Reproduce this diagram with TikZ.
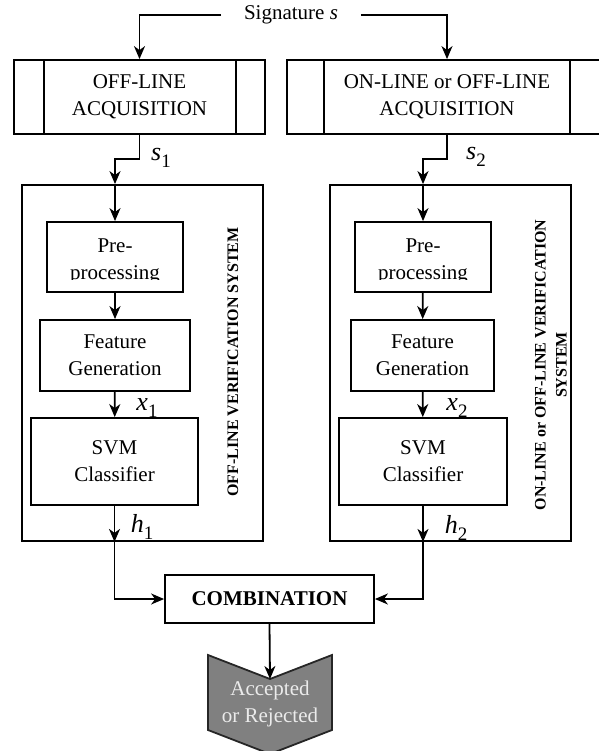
\documentclass[tikz,border=0pt]{standalone}
\usepackage{fontspec}
\setmainfont{Liberation Serif}
\usetikzlibrary{arrows.meta}

\definecolor{resgray}{RGB}{128,128,128}
\newcommand{\sublbl}[2]{\textit{#1}\raisebox{-7pt}{\fontsize{19}{19}\selectfont #2}}

\begin{document}
\begin{tikzpicture}[
    x=1pt, y=-1pt, line width=1.8pt,
    every node/.style={font=\fontsize{21}{27}\selectfont, align=center, inner sep=0pt},
    blk/.style={draw},
    sym/.style={font=\fontsize{26}{30}\selectfont},
    vlab/.style={rotate=90, font=\fontsize{16}{21}\selectfont\bfseries},
    >={Stealth[length=13pt, width=11pt, inset=4pt]}
  ]
  \useasboundingbox (0,0) rectangle (598,751);

  % input and acquisition
  \node[inner xsep=22pt] (sig) at (291,15) {Signature \textit{s}};
  \node[blk, minimum width=251pt, minimum height=74pt] (acq1) at (139.5,97) {OFF-LINE\\ACQUISITION};
  \node[blk, minimum width=320pt, minimum height=74pt] (acq2) at (447,97) {ON-LINE or OFF-LINE\\ACQUISITION};
  \draw ([xshift=31pt]acq1.north west) -- ([xshift=31pt]acq1.south west);
  \draw ([xshift=-30pt]acq1.north east) -- ([xshift=-30pt]acq1.south east);
  \draw ([xshift=38pt]acq2.north west) -- ([xshift=38pt]acq2.south west);
  \draw ([xshift=-38pt]acq2.north east) -- ([xshift=-38pt]acq2.south east);

  \draw[->] (sig.west) -| (acq1.north);
  \draw[->] (sig.east) -| (acq2.north);

  % off-line system
  \node[blk, minimum width=241pt, minimum height=356pt] (sys1) at (142.5,363) {};
  \node[blk, minimum width=136pt, minimum height=70pt] (pre1) at (115,257) {};
  \begin{scope}
    \clip (0,0) rectangle (598,279);
    \node (pre1txt) at ([yshift=-4pt]pre1.center) {Pre-\\processing};
  \end{scope}
  \node[blk, minimum width=150pt, minimum height=71pt] (feat1) at (115,355.5) {Feature\\Generation};
  \node[blk, minimum width=167pt, minimum height=87pt] (svm1) at (114.5,461.5) {SVM\\Classifier};
  \node[vlab] (vt1) at (233,362) {OFF-LINE VERIFICATION SYSTEM};

  % on-line or off-line system
  \node[blk, minimum width=241pt, minimum height=356pt] (sys2) at (450.5,363) {};
  \node[blk, minimum width=136pt, minimum height=70pt] (pre2) at (423,257) {};
  \begin{scope}
    \clip (0,0) rectangle (598,279);
    \node (pre2txt) at ([yshift=-4pt]pre2.center) {Pre-\\processing};
  \end{scope}
  \node[blk, minimum width=143pt, minimum height=71pt] (feat2) at (422.5,355.5) {Feature\\Generation};
  \node[blk, minimum width=168pt, minimum height=87pt] (svm2) at (423,461.5) {SVM\\Classifier};
  \node[vlab] (vt2) at (551,365) {ON-LINE or OFF-LINE VERIFICATION\\SYSTEM};

  % signals
  \coordinate (in1) at (pre1 |- sys1.north);
  \coordinate (in2) at (pre2 |- sys2.north);
  \coordinate (out1) at (svm1 |- sys1.south);
  \coordinate (out2) at (svm2 |- sys2.south);

  \draw[->] (acq1.south) -- ++(0,24) -| (in1);
  \draw[->] (acq2.south) -- ++(0,24) -| (in2);
  \draw[->] (in1) -- (pre1.north);
  \draw[->] (in2) -- (pre2.north);
  \draw[->] (pre1) -- (feat1);
  \draw[->] (pre2) -- (feat2);
  \draw[->] (feat1) -- (svm1);
  \draw[->] (feat2) -- (svm2);
  \draw[->] (svm1.south) -- (out1);
  \draw[->] (svm2.south) -- (out2);

  \node[sym] (s1) at (161,158) {\sublbl{s}{1}};
  \node[sym] (s2) at (476,157) {\sublbl{s}{2}};
  \node[sym] (x1) at (147,408) {\sublbl{x}{1}};
  \node[sym] (x2) at (457,408) {\sublbl{x}{2}};
  \node[sym] (h1) at (142,527) {\sublbl{h}{1}};
  \node[sym] (h2) at (456,528) {\sublbl{h}{2}};

  % combination and decision
  \node[blk, minimum width=209pt, minimum height=48pt, font=\fontsize{21}{27}\selectfont\bfseries] (comb) at (269.5,599) {COMBINATION};
  \draw[->] (out1) |- (comb.west);
  \draw[->] (out2) |- (comb.east);

  \coordinate (notch) at (270,679);
  \draw[fill=resgray, draw=black!85] (208,655) -- (notch) -- (332,655) -- (332,730) -- (270,754) -- (208,730) -- cycle;
  \node[text=white!92!black] (res) at (270,704) {Accepted\\or Rejected};
  \draw[->] (comb.south) -- (notch);
\end{tikzpicture}
\end{document}
